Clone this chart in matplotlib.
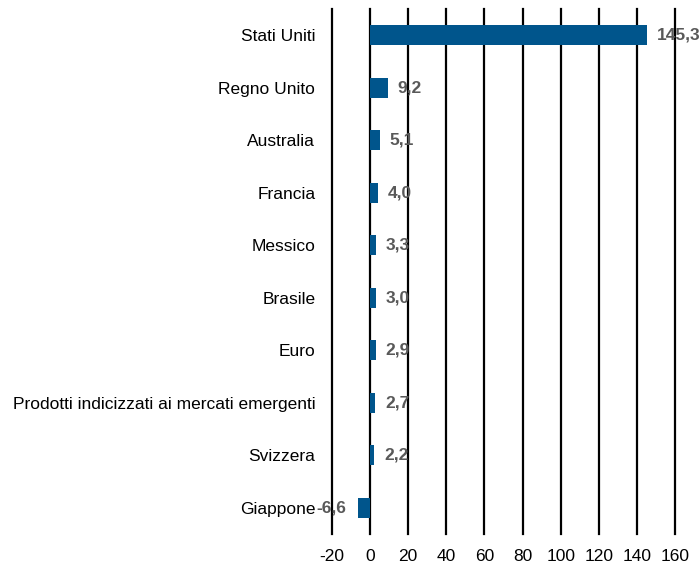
import matplotlib.pyplot as plt

categories = ['Stati Uniti', 'Regno Unito', 'Australia', 'Francia', 'Messico',
              'Brasile', 'Euro', 'Prodotti indicizzati ai mercati emergenti',
              'Svizzera', 'Giappone']
values = [145.3, 9.2, 5.1, 4.0, 3.3, 3.0, 2.9, 2.7, 2.2, -6.6]
ticks = [-20, 0, 20, 40, 60, 80, 100, 120, 140, 160]

plt.rcParams['font.family'] = ['Liberation Sans Narrow', 'Liberation Sans', 'DejaVu Sans']
plt.rcParams['font.stretch'] = 'condensed'

fig = plt.figure(figsize=(7, 5.71), dpi=100)
ax = fig.add_axes([332/700, 1 - 534/571, (675 - 332)/700, 525/571])

y = list(range(len(categories)))
ax.barh(y, values, height=0.38, color='#00558c', zorder=3)

for yi, v in zip(y, values):
    txt = '{:.1f}'.format(v).replace('.', ',')
    if v >= 0:
        ax.annotate(txt, (v, yi), xytext=(7, 0), textcoords='offset points',
                    ha='left', va='center', fontsize=12.5, fontweight='bold',
                    color='#595959', zorder=4, annotation_clip=False)
    else:
        ax.annotate(txt, (v, yi), xytext=(-8, 0), textcoords='offset points',
                    ha='right', va='center', fontsize=12.5, fontweight='bold',
                    color='#595959', zorder=4, annotation_clip=False)

ax.set_xlim(-20, 160)
ax.set_ylim(len(categories) - 0.5, -0.5)
ax.set_xticks(ticks)
ax.set_xticklabels([str(t) for t in ticks], fontsize=12.5)
ax.set_yticks(y)
ax.set_yticklabels(categories, fontsize=12.5)
ax.tick_params(length=0, pad=11, axis='x')
ax.tick_params(length=0, pad=12, axis='y')

for t in ticks:
    ax.axvline(t, color='black', linewidth=1.6, zorder=2, clip_on=False)
for s in ax.spines.values():
    s.set_visible(False)

fig.savefig('out.png', dpi=100)
